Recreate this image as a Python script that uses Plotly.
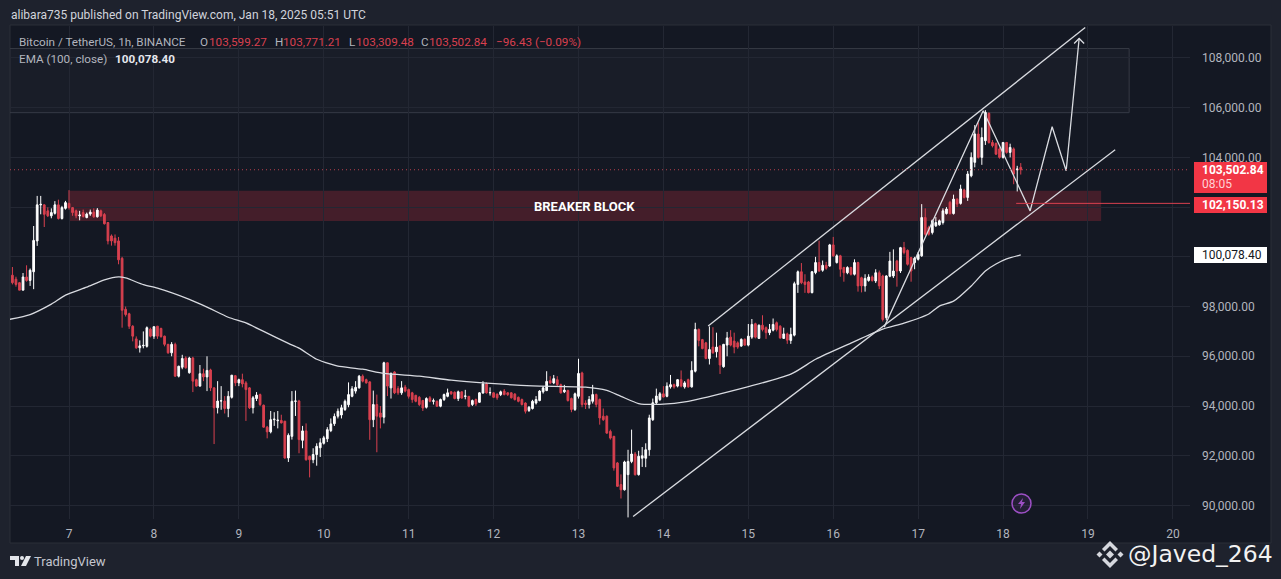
import pandas as pd
import plotly.graph_objects as go

W, H = 1281, 579
PAGE_BG = "#1e222d"
PANEL_BG = "#141823"
GRID = "#232733"
RED = "#f23645"
CANDLE_RED = "#d9404f"
TXT = "#b2b5be"
FONT = "Roboto"

# Velas de 1h, desde Jan 6 08:00 hasta Jan 18 05:00
opens = [
    99260,99100,98960,98660,99190,99050,99400,100640,102090,102090,101850,101650,101750,102090,101540,101950,
    102150,101980,101850,101650,101780,101580,101720,101800,101610,101850,101700,101380,100840,100750,100640,99940,97890,97710,97210,96700,96340,96420,96400,97090,
    96810,97210,97120,96810,96480,96140,96480,95200,95560,95930,95340,95930,95060,94800,95300,95170,95450,94730,93930,94200,94200,93900,94350,95220,
    94930,95060,94930,94730,93930,94300,94460,94030,93150,92960,93450,93410,93420,93390,91910,92780,94190,94200,92620,93000,91980,91840,92050,92320,
    92500,92680,93010,93290,93590,93640,93860,94050,94390,94600,94730,95200,95060,94970,93450,94060,93720,93550,95740,94730,95370,94700,94530,94760,
    94660,94530,94430,94350,94220,93950,94330,94190,94190,93990,94260,94390,94570,94550,94300,94570,94390,94390,94060,94260,94150,94520,94890,94530,
    94530,94480,94460,94600,94530,94530,94480,94350,94260,94120,93820,93900,94120,94220,94570,94620,95020,94930,95060,94860,94570,94620,94300,93860,
    94390,95330,94120,94060,94190,94460,94260,93590,93590,92980,92780,91710,90840,90630,91240,91770,92070,91240,91900,91900,92240,93450,94130,94260,
    94490,94390,94770,94860,94800,95060,94770,95060,94770,95400,97080,96670,96540,95910,96370,96180,96410,95580,96450,96770,96610,96540,96410,96680,
    96450,96770,97310,96720,97250,97150,96950,97050,97350,97210,96720,96900,96640,96850,98890,99400,98990,98990,98560,99370,99770,99460,99660,99630,
    100480,99770,100040,99570,99360,99570,99300,99770,99160,98830,99050,99190,99030,99360,99230,97550,99220,99230,99830,99430,100370,100260,99970,99770,
    99900,100040,101580,101180,100980,101250,101290,101380,101740,102190,101740,102320,102150,102690,102390,103260,103800,104940,104000,104670,105770,104600,104560,104340,
    104000,104600,104200,104340,103500,103599.27,
]
highs = [
    99590,99200,98990,99350,99660,99530,101240,102450,102450,102110,101990,101950,102240,102300,102050,102250,
    102680,102000,101900,101850,101900,101780,101900,101950,101960,101900,101760,101400,100900,100900,100800,100000,98000,97750,97250,96800,96640,97000,97200,97150,
    97200,97220,97150,96830,96500,96570,96550,95620,96060,96000,95980,95980,95100,95650,95500,96000,95500,94750,95000,94800,94400,94600,95250,95250,
    95100,95300,95000,94760,94400,94560,94500,94060,93200,93800,93750,93800,93650,93400,92900,94600,94620,94250,93200,93300,92000,92300,92500,92700,
    92800,93150,93500,93700,93900,94050,94260,94950,94800,95000,95250,95270,95100,95000,94620,94460,94000,95780,95750,95350,95400,94800,95000,94850,
    94700,94570,94450,94400,94250,94350,94400,94300,94220,94300,94500,94700,94600,94590,94620,94590,94650,94400,94260,94300,94560,95000,94950,94750,
    94560,94500,94620,94680,94560,94560,94520,94380,94300,94150,94000,94250,94400,94640,94800,95400,95200,95250,95200,94900,94850,94660,94340,94540,
    95900,95380,94230,94400,94850,94500,94300,93900,93620,93050,92800,91750,91250,91800,92240,93050,92150,92200,92350,92500,93650,94300,94700,94560,
    94800,94950,95250,94900,95080,95430,95000,95100,95800,97350,97120,96700,96580,97200,97170,96950,96450,96500,96980,97050,96950,96600,96720,96720,
    97300,97500,97350,97280,97650,97200,97300,97520,97400,97250,97150,96950,97150,99000,99450,99750,99300,99030,99430,100000,100650,99850,99800,100520,
    100800,100100,100080,99600,99620,99600,99900,99800,99200,99300,99300,99250,99500,99450,99280,99260,100200,100300,99880,100400,100600,100300,100000,100000,
    100200,102120,101950,101250,101500,101600,101500,101950,102000,102250,102500,102350,102900,102740,103450,104200,105300,105400,105200,105900,105810,104700,104600,104400,
    104620,104620,104550,104400,103660,103771.21,
]
lows = [
    98890,98800,98660,98660,99000,98830,98700,100440,101710,101200,101600,101550,101700,101500,101500,101900,
    101900,101650,101550,101470,101580,101550,101650,101570,101580,101600,101300,100500,100450,100450,99700,97150,97600,97100,96600,96300,96150,96320,96350,96760,
    96700,96700,96750,96400,96100,96000,95180,95150,95480,95500,95300,94560,94780,94780,95000,94600,94600,92470,93700,93850,93700,93550,94300,94800,
    94800,94750,93400,93880,93700,94200,94000,93130,92700,92900,93200,93100,93300,91880,91750,92650,93600,92100,92300,91800,91130,91700,91600,91950,
    92450,92550,92950,93200,93500,93500,93800,93950,94350,94500,94700,94950,94900,92640,93150,92140,93100,93300,94400,94300,94480,94450,94450,94550,
    94300,94130,94150,94000,93800,93900,94150,94060,93960,93950,94200,94350,94450,94270,94200,94290,94270,93950,94000,94000,94130,94500,94500,94420,
    94320,94250,94400,94430,94400,94300,94220,94150,94020,93700,93760,93860,94060,94190,94500,94600,94880,94880,94800,94500,94520,94180,93750,93800,
    94300,93950,93880,93900,94100,93950,93250,93400,92880,92650,91400,90750,90280,90600,89520,91700,91200,91200,91550,91540,92000,93400,94050,94200,
    94350,94350,94700,94700,94750,94750,94700,94740,94740,95350,96400,96280,95880,95670,96100,95950,95290,95540,96000,96400,96120,96300,96380,96420,
    96400,96700,96720,96700,97000,96700,96850,97000,97000,96700,96700,96500,96500,96800,98550,98900,98550,98530,98530,99300,99400,99400,99480,99600,
    100000,99730,99200,99000,99300,99250,99250,98600,98570,98600,99000,99000,98950,98700,97400,97450,99180,99150,98800,99350,100100,99650,99000,99500,
    99850,100000,100850,100850,100900,101200,101250,101300,101700,101700,101700,102000,102100,102350,102250,103200,103600,103950,103700,104500,104550,104400,104100,103950,
    103950,104150,104000,102920,102630,103309.48,
]
closes = [
    98960,98890,98660,99190,99050,99460,100660,102090,102110,101710,101650,101780,102090,101540,101980,102180,
    101980,101780,101650,101680,101620,101720,101800,101610,101880,101650,101330,100640,100640,100570,99880,97850,97680,97210,96810,96340,96420,96440,97150,96810,
    97190,96810,96790,96480,96140,96480,95200,95600,95910,95540,95930,95000,94800,95300,95170,95430,94730,93930,94200,94210,93900,94390,95240,94930,
    95060,94890,94660,93930,94330,94440,94060,93150,92960,93450,93470,93430,93320,91910,92820,94190,94200,92650,93000,91840,91840,92050,92380,92520,
    92720,93050,93280,93580,93790,93930,94190,94460,94690,94750,95200,95000,94930,93450,94060,93590,93550,95740,94800,95310,94530,94530,94730,94600,
    94390,94260,94190,94060,93920,94300,94190,94210,93990,94260,94460,94530,94490,94300,94570,94320,94400,93990,94220,94080,94530,94890,94530,94540,
    94350,94330,94570,94460,94460,94330,94260,94190,94060,93790,93950,94190,94260,94600,94730,94990,94930,95100,94860,94530,94640,94220,93860,94490,
    95310,94060,94060,94260,94460,94060,93520,93450,92910,92710,91510,90770,90630,91750,91770,92070,91240,91980,92000,92240,93520,94130,94400,94490,
    94360,94800,94860,94770,95060,94800,94930,94770,95430,97080,96640,96310,95910,96270,96140,96370,95650,96480,96740,96450,96370,96370,96680,96450,
    96810,97280,96770,97250,97080,96950,97080,97280,97080,96740,96900,96650,96880,98920,99400,98960,98890,98560,99400,99770,99430,99660,99540,100480,
    100040,100040,99500,99360,99570,99300,99770,98830,98830,99130,99190,99050,99360,98830,97480,99230,99830,99430,99430,100370,100170,99700,99430,99940,
    100100,101580,100910,100910,101450,101380,101450,101850,101920,101740,102320,102120,102730,102390,103330,104000,104940,104000,104800,105810,104600,104470,104130,104000,
    104600,104200,104400,103330,103530,103502.84,
]
candle_times = pd.date_range("2025-01-06 08:00", periods=len(closes), freq="h")

# EMA 100
ema_times = [
    "2025-01-06 07:00","2025-01-06 13:00","2025-01-06 19:00","2025-01-06 23:00","2025-01-07 05:00","2025-01-07 10:00",
    "2025-01-07 14:00","2025-01-07 16:00","2025-01-07 21:00","2025-01-08 01:00","2025-01-08 10:00","2025-01-08 15:00",
    "2025-01-08 21:00","2025-01-09 02:00","2025-01-09 07:00","2025-01-09 14:00","2025-01-09 17:00","2025-01-09 22:00",
    "2025-01-10 02:00","2025-01-10 04:00","2025-01-10 11:00","2025-01-10 17:00","2025-01-11 03:00","2025-01-11 12:00",
    "2025-01-11 22:00","2025-01-12 11:00","2025-01-13 02:00","2025-01-13 08:00","2025-01-13 12:00","2025-01-13 17:00",
    "2025-01-13 23:00","2025-01-14 07:00","2025-01-15 12:00","2025-01-15 19:00","2025-01-16 05:00","2025-01-16 14:00",
    "2025-01-16 20:00","2025-01-17 03:00","2025-01-17 06:00","2025-01-17 10:00","2025-01-17 15:00","2025-01-17 19:00",
    "2025-01-17 22:00","2025-01-18 01:00","2025-01-18 05:00",
]
ema_values = [
    97480,97680,98100,98460,98780,99070,99190,99150,98880,98740,98290,97980,97570,97340,97000,96520,96330,95880,
    95680,95600,95480,95310,95200,95040,94920,94810,94760,94630,94390,94100,94070,94190,95280,95880,96530,97090,
    97330,97700,98020,98220,98830,99430,99710,99915,100078.4,
]

# Dibujos sobre el grafico
channel_top_t = ["2025-01-14 12:39", "2025-01-18 23:13"]
channel_top_p = [97214, 109220]
channel_low_t = ["2025-01-13 15:26", "2025-01-19 07:41"]
channel_low_p = [89557, 104306]
path_t = ["2025-01-16 14:24","2025-01-17 18:23","2025-01-18 07:39","2025-01-18 13:52","2025-01-18 17:50","2025-01-18 21:30"]
path_p = [97173, 105878, 101848, 105233, 103460, 108780]
arrow_t = ["2025-01-18 20:05", "2025-01-18 21:30", "2025-01-18 22:55"]
arrow_p = [108580, 108780, 108580]

price_ticks = [90000,92000,94000,96000,98000,100000,102000,104000,106000,108000]
price_labels = ["90,000.00","92,000.00","94,000.00","96,000.00","98,000.00","","","104,000.00","106,000.00","108,000.00"]
day_ticks = ["2025-01-%02d" % d for d in range(7, 21)]
day_labels = [str(d) for d in range(7, 21)]

last_close = closes[-1]
level_price = 102150.13


def px(x):
    return x / W


def py(y):
    return 1 - y / H


def box(x0, y0, x1, y1, fill, line="rgba(0,0,0,0)", layer="below"):
    fig.add_shape(type="rect", xref="paper", yref="paper", x0=px(x0), x1=px(x1), y0=py(y0), y1=py(y1),
                  fillcolor=fill, line=dict(color=line, width=1), layer=layer)


def poly(points, fill):
    d = "M " + " L ".join("%f %f" % (px(a), py(b)) for a, b in points) + " Z"
    fig.add_shape(type="path", xref="paper", yref="paper", path=d, fillcolor=fill, line=dict(width=0))


def label(x, y, text, color=TXT, size=12, anchor="left", family=FONT):
    fig.add_annotation(xref="paper", yref="paper", x=px(x), y=py(y), text=text, showarrow=False,
                       xanchor=anchor, yanchor="middle", font=dict(color=color, size=size, family=family),
                       borderpad=0)


fig = go.Figure()

fig.add_trace(go.Candlestick(
    x=candle_times, open=opens, high=highs, low=lows, close=closes,
    increasing=dict(line=dict(color="#ffffff", width=1), fillcolor="#ffffff"),
    decreasing=dict(line=dict(color=CANDLE_RED, width=1), fillcolor=CANDLE_RED),
    showlegend=False,
))
fig.add_trace(go.Scatter(x=ema_times, y=ema_values, mode="lines", line=dict(color="#d8dae0", width=1.3, shape="spline", smoothing=0.6), showlegend=False))
for tt, pp in [(channel_top_t, channel_top_p), (channel_low_t, channel_low_p), (path_t, path_p), (arrow_t, arrow_p)]:
    fig.add_trace(go.Scatter(x=tt, y=pp, mode="lines", line=dict(color="#d9dbe0", width=1.3), showlegend=False))
fig.add_trace(go.Scatter(x=["2025-01-18 03:42", "2025-01-20 04:50"], y=[level_price, level_price], mode="lines",
                         line=dict(color="#d9404f", width=1), showlegend=False))

# Paneles de fondo
box(10, 25, 1271, 543, PANEL_BG, line="#2a2e39")

# Zonas
fig.add_shape(type="rect", x0="2025-01-07 00:00", x1="2025-01-19 03:43", y0=101445, y1=102654,
              fillcolor="rgba(242,54,69,0.22)", line=dict(width=0), layer="below")
fig.add_shape(type="rect", x0="2025-01-06 00:00", x1="2025-01-19 11:38", y0=105798, y1=108377,
              fillcolor="rgba(120,123,134,0.06)", line=dict(color="#363a45", width=1), layer="below")
fig.add_hline(y=last_close, line=dict(color="#b8404e", width=1, dash="1px,3px"))
fig.add_annotation(x="2025-01-13 01:40", y=102010, text="<b>BREAKER BLOCK</b>", showarrow=False,
                   font=dict(color="#ffffff", size=13, family=FONT))

# Cabecera
label(10, 15, "alibara735 published on TradingView.com, Jan 18, 2025 05:51 UTC", "#d1d4dc", 12)
label(18, 42, "Bitcoin / TetherUS, 1h, BINANCE", TXT, 11.7)
for x, t, c in [(199, "O", TXT), (208, "103,599.27", "#d9404f"), (274, "H", TXT), (282, "103,771.21", "#d9404f"),
                (348, "L", TXT), (355, "103,309.48", "#d9404f"), (420, "C", TXT), (428, "103,502.84", "#d9404f"),
                (495, "−96.43 (−0.09%)", "#d9404f")]:
    label(x, 42, t, c, 11.7)
label(18, 59, "EMA (100, close)", TXT, 11.7)
label(114, 59, "<b>100,078.40</b>", "#e6e8ee", 11.7)

# Etiquetas de precio
box(1194, 162, 1267, 193, RED, layer="above")
label(1201, 170, "<b>103,502.84</b>", "#ffffff", 12)
label(1201, 184, "08:05", "#ffd3d6", 12)
box(1194, 197, 1267, 213, RED, layer="above")
label(1201, 205, "<b>102,150.13</b>", "#ffffff", 12)
box(1194, 247, 1267, 263, "#ffffff", layer="above")
label(1201, 255, "100,078.40", "#131722", 12)

# Icono del rayo
fig.add_shape(type="circle", xref="paper", yref="paper", x0=px(1012), x1=px(1031), y0=py(494), y1=py(513),
              line=dict(color="#9c4fc4", width=1.5), fillcolor="rgba(156,79,196,0.12)")
poly([(1023, 498), (1018, 504), (1021, 504), (1020, 509), (1025, 502), (1022, 502)], "#9c4fc4")

# Pie de pagina: logo de TradingView
poly([(10, 556), (19, 556), (19, 566), (15, 566), (15, 560), (10, 560)], "#e3e5ea")
fig.add_shape(type="circle", xref="paper", yref="paper", x0=px(20), x1=px(24), y0=py(556), y1=py(560),
              fillcolor="#e3e5ea", line=dict(width=0))
poly([(26, 556), (31, 556), (26, 566), (21, 566)], "#e3e5ea")
label(33, 561, "TradingView", "#c4c6ce", 13)

# Marca de agua
label(1127, 554, "@Javed_264", "#f2f2f2", 23.5, family="DejaVu Sans")
cx, cy = 1110, 554.5
LOGO = "#d6d8de"
poly([(cx - 4, cy), (cx, cy - 4), (cx + 4, cy), (cx, cy + 4)], LOGO)
poly([(cx - 13.5, cy), (cx - 10.5, cy - 3), (cx - 7.5, cy), (cx - 10.5, cy + 3)], LOGO)
poly([(cx + 13.5, cy), (cx + 10.5, cy - 3), (cx + 7.5, cy), (cx + 10.5, cy + 3)], LOGO)
poly([(cx, cy - 13.5), (cx + 8, cy - 5.5), (cx + 5.5, cy - 3), (cx, cy - 8.5), (cx - 5.5, cy - 3), (cx - 8, cy - 5.5)], LOGO)
poly([(cx, cy + 13.5), (cx + 8, cy + 5.5), (cx + 5.5, cy + 3), (cx, cy + 8.5), (cx - 5.5, cy + 3), (cx - 8, cy + 5.5)], LOGO)

fig.update_xaxes(
    domain=[px(10), px(1190)], range=["2025-01-06 07:19", "2025-01-20 04:50"], type="date",
    tickmode="array", tickvals=day_ticks, ticktext=day_labels, showgrid=True, gridcolor=GRID, gridwidth=1,
    zeroline=False, showline=False, ticks="", ticklabelstandoff=6, rangeslider=dict(visible=False),
    tickfont=dict(color=TXT, size=12, family=FONT),
)
fig.update_yaxes(
    domain=[py(518.5), py(25.5)], range=[89476, 109304], side="right", tickmode="array",
    tickvals=price_ticks, ticktext=price_labels, showgrid=True, gridcolor=GRID, gridwidth=1,
    zeroline=False, showline=False, ticks="", ticklabelstandoff=11,
    tickfont=dict(color=TXT, size=12, family=FONT),
)
fig.update_layout(
    width=W, height=H, margin=dict(l=0, r=0, t=0, b=0), autosize=False,
    paper_bgcolor=PAGE_BG, plot_bgcolor="rgba(0,0,0,0)", showlegend=False, hovermode=False,
)
fig.write_html("out.html", config=dict(displayModeBar=False),
               post_script="document.body.style.margin='0';document.body.style.background='%s';" % PAGE_BG)
